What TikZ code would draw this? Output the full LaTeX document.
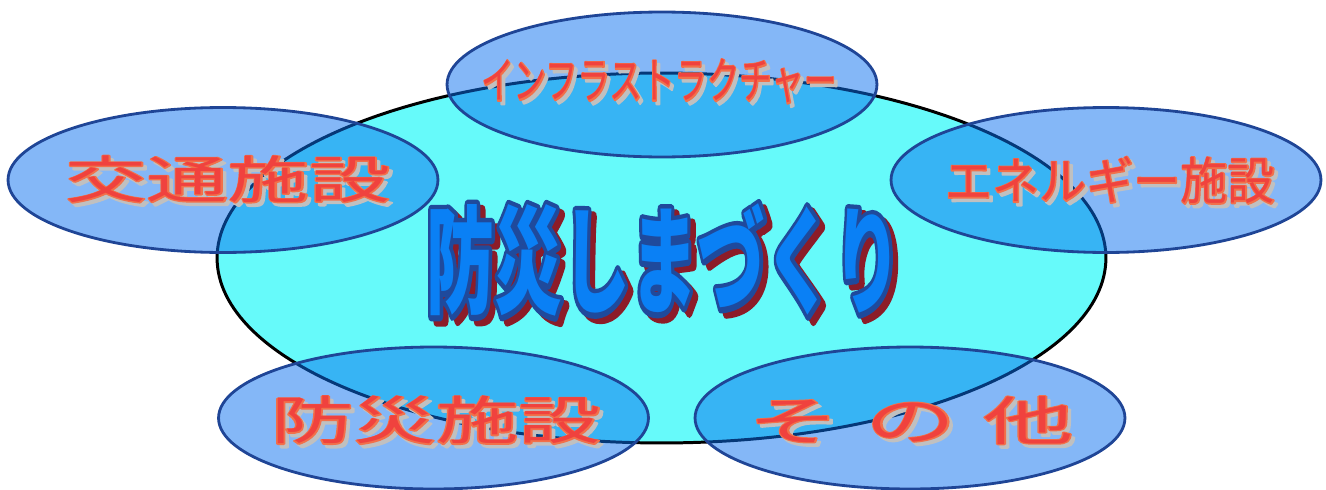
\documentclass[tikz,border=0pt]{standalone}
\usepackage{fontspec}
\usepackage{graphicx}
\usetikzlibrary{shapes.geometric}
\newfontfamily\jp{Noto Sans CJK JP}
\definecolor{bigfill}{RGB}{102,250,250}
\definecolor{bubblefill}{RGB}{10,112,240}
\definecolor{bubbleline}{RGB}{31,69,150}
\definecolor{lblfill}{RGB}{240,66,62}
\definecolor{lblline}{RGB}{242,112,74}
\definecolor{lblshadow}{RGB}{192,192,192}
\definecolor{ctrfill}{RGB}{10,128,245}
\definecolor{ctrline}{RGB}{31,74,156}
\definecolor{ctrshadow}{RGB}{140,28,40}
\newlength\sol
\def\curw{1cm}\def\curh{1cm}\def\curtext{}\def\curfont{\jp}
% #1 colour, #2 raw text-state code
\newcommand\glyphs[2]{\resizebox*{\curw}{\curh}{\curfont\color{#1}\special{pdf:literal direct #2}\curtext}}
\newcommand\fancy[9]{% #1 w, #2 h, #3 font, #4 fill, #5 outline colour, #6 stroke width, #7 shadow, #8 shadow offset, #9 text
 \def\curw{#1}\def\curh{#2}\def\curfont{#3}\def\curtext{#9}\setlength\sol{#8}%
 \rlap{\hspace*{\sol}\raisebox{-\sol}{\glyphs{#7}{2 Tr #6 w 1 j}}}%
 \rlap{\glyphs{#5}{2 Tr #6 w 1 j}}%
 \glyphs{#4}{0 Tr}}
\newcommand\smalllbl[4]{\fancy{#1}{#2}{\jp}{lblfill}{lblline}{#3}{lblshadow}{2pt}{#4}}
\tikzset{
  bigbubble/.style={ellipse, draw=black, line width=1.7pt, fill=bigfill, inner sep=0pt},
  bubble/.style={ellipse, draw=bubbleline, line width=1.6pt, fill=bubblefill, fill opacity=0.5, draw opacity=1, inner sep=0pt, minimum width=8.6cm, minimum height=2.9cm},
  lbl/.style={inner sep=0pt, text opacity=1, fill opacity=1},
}
\begin{document}
\begin{tikzpicture}[x=0.02cm, y=-0.02cm]
\useasboundingbox (0,0) rectangle (1326,490);
\node[bigbubble, minimum width=17.78cm, minimum height=7.4cm] (main) at (661.5,258) {};
\node[bubble] (infra) at (662,84.5) {};
\node[bubble] (traffic) at (223,180) {};
\node[bubble] (energy) at (1106,180) {};
\node[bubble, minimum height=2.84cm] (disaster) at (433.5,418) {};
\node[bubble, minimum height=2.84cm] (other) at (910,418) {};
\node[lbl] (tmain) at (664,263) {\fancy{9.5cm}{2.25cm}{\jp\bfseries}{ctrfill}{ctrline}{0.9}{ctrshadow}{3pt}{防災しまづくり}};
\node[lbl] (tinfra) at (659,83) {\smalllbl{7.1cm}{0.88cm}{0.6}{インフラストラクチャー}};
\node[lbl] (ttraffic) at (228,181) {\smalllbl{6.5cm}{0.94cm}{0.4}{交通施設}};
\node[lbl] (tenergy) at (1110,182) {\smalllbl{6.6cm}{0.94cm}{0.5}{エネルギー施設}};
\node[lbl] (tdisaster) at (436,422) {\smalllbl{6.6cm}{0.96cm}{0.4}{防災施設}};
\node[lbl] (tother) at (911,422) {\smalllbl{6.5cm}{0.96cm}{0.38}{そ\hspace{0.3em}の\hspace{0.3em}他}};
\end{tikzpicture}
\end{document}
